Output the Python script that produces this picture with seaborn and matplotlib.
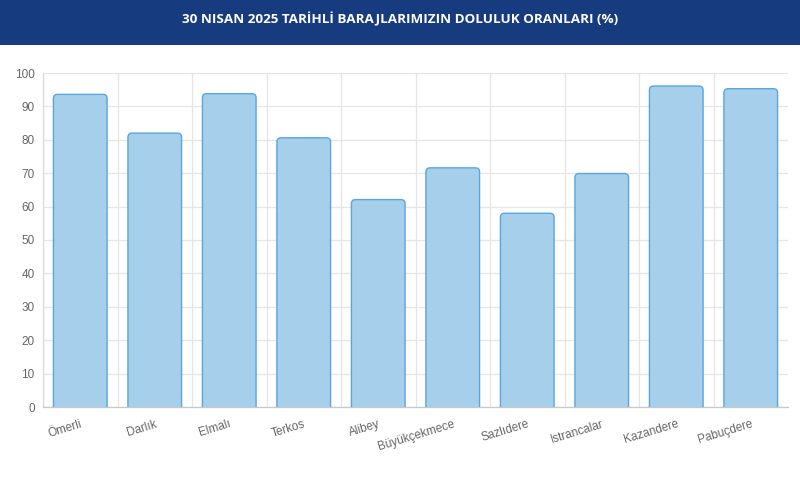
import numpy as np
import pandas as pd
import matplotlib
matplotlib.use("Agg")
import matplotlib.pyplot as plt
from matplotlib.patches import Rectangle, FancyBboxPatch
from matplotlib.ticker import FixedLocator, MultipleLocator
import seaborn as sns

# dam names and fill ratios (%)
dams = ["Ömerli", "Darlık", "Elmalı", "Terkos", "Alibey", "Büyükçekmece",
        "Sazlıdere", "Istrancalar", "Kazandere", "Pabuçdere"]
fill_pct = [93.6, 82.0, 93.8, 80.6, 62.1, 71.6, 58.0, 69.9, 96.1, 95.3]
title = "30 NISAN 2025 TARİHLİ BARAJLARIMIZIN DOLULUK ORANLARI (%)"

df = pd.DataFrame({"dam": dams, "pct": fill_pct})

sns.set_theme(style="white")
plt.rcParams["font.family"] = ["Liberation Sans", "DejaVu Sans"]

fig = plt.figure(figsize=(8, 4.8), dpi=100)
fig.patch.set_facecolor("white")

# header band
fig.patches.append(Rectangle((0, 1 - 45 / 480), 1, 45 / 480, transform=fig.transFigure,
                             facecolor="#163b7f", edgecolor="none", zorder=0))
fig.text(0.5, 1 - 19 / 480, title, color="white", ha="center", va="center",
         fontsize=9.7, fontweight="bold", family=["Open Sans", "DejaVu Sans"])

ax = fig.add_axes([43 / 800, 73 / 480, 745 / 800, 334 / 480])
sns.barplot(data=df, x="dam", y="pct", ax=ax, width=0.72,
            color="#a5cdea", saturation=1, zorder=3)

# swap plain bars for slightly rounded ones
fill_col = "#a5cfea"
edge_col = "#5aa6dc"
for p in list(ax.patches):
    x0, w, h = p.get_x(), p.get_width(), p.get_height()
    p.remove()
    ax.add_patch(FancyBboxPatch((x0, -3), w, h + 3,
                                boxstyle="round,pad=0,rounding_size=0.055",
                                mutation_aspect=22.3, facecolor=fill_col,
                                edgecolor=edge_col, linewidth=1.0, zorder=3))

ax.set_xlim(-0.5, 9.5)
ax.set_ylim(0, 100)
ax.set_xlabel("")
ax.set_ylabel("")

ax.yaxis.set_major_locator(MultipleLocator(10))
ax.xaxis.set_minor_locator(FixedLocator(np.arange(-0.5, 9.0, 1.0)))
ax.grid(True, which="major", axis="y", color="#e5e5e5", linewidth=0.9, zorder=0)
ax.grid(True, which="minor", axis="x", color="#e5e5e5", linewidth=0.9, zorder=0)
ax.grid(False, which="major", axis="x")

for s in ["top", "right"]:
    ax.spines[s].set_visible(False)
ax.spines["left"].set_color("#dadada")
ax.spines["bottom"].set_color("#c8c8c8")
ax.spines["left"].set_linewidth(0.9)
ax.spines["bottom"].set_linewidth(0.9)

ax.tick_params(axis="y", which="major", length=5, color="#e0e0e0", pad=1,
               labelsize=8.5, labelcolor="#666666")
ax.tick_params(axis="x", which="major", length=0, pad=8,
               labelsize=8.5, labelcolor="#666666")
ax.tick_params(axis="x", which="minor", length=6, color="#e0e0e0")
ax.set_xticks(range(len(dams)))
ax.set_xticklabels(dams, rotation=17, ha="right", rotation_mode="anchor")

fig.savefig("out.png", dpi=100, facecolor="white")
